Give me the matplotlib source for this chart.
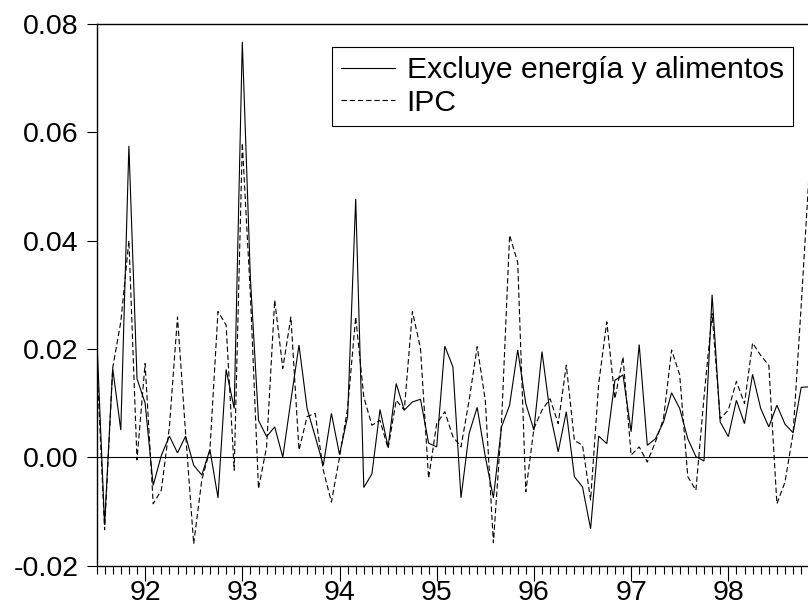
import numpy as np
import matplotlib
matplotlib.use("Agg")
import matplotlib.pyplot as plt
from matplotlib.ticker import FixedLocator, FixedFormatter

plt.rcParams['font.family'] = ['Liberation Sans', 'DejaVu Sans']
plt.rcParams['axes.unicode_minus'] = False

start_year = 1991.5  # July 1991, monthly data
core = [0.0235, -0.0125, 0.0164, 0.0050, 0.0575, 0.0145, 0.0100, -0.0052, 0.0003, 0.0039,
        0.0008, 0.0039, -0.0015, -0.0033, 0.0014, -0.0075, 0.0162, 0.0090, 0.0767, 0.0330,
        0.0068, 0.0038, 0.0056, 0.0000, 0.0105, 0.0207, 0.0090, 0.0038, -0.0015, 0.0081,
        0.0005, 0.0075, 0.0477, -0.0056, -0.0031, 0.0088, 0.0019, 0.0136, 0.0087, 0.0102,
        0.0107, 0.0026, 0.0019, 0.0205, 0.0167, -0.0075, 0.0044, 0.0092, 0.0001, -0.0075,
        0.0056, 0.0096, 0.0198, 0.0099, 0.0050, 0.0195, 0.0081, 0.0010, 0.0084, -0.0036,
        -0.0055, -0.0132, 0.0039, 0.0025, 0.0142, 0.0152, 0.0047, 0.0208, 0.0022, 0.0034,
        0.0065, 0.0119, 0.0090, 0.0034, 0.0001, -0.0007, 0.0300, 0.0065, 0.0038, 0.0105,
        0.0062, 0.0153, 0.0090, 0.0056, 0.0096, 0.0061, 0.0045, 0.0129, 0.0130]
ipc = [0.0190, -0.0134, 0.0165, 0.0250, 0.0400, -0.0005, 0.0173, -0.0086, -0.0061, 0.0056,
       0.0259, 0.0044, -0.0160, -0.0042, 0.0013, 0.0269, 0.0244, -0.0024, 0.0580, 0.0300,
       -0.0058, 0.0019, 0.0290, 0.0164, 0.0259, 0.0013, 0.0075, 0.0081, -0.0024, -0.0083,
       0.0000, 0.0090, 0.0259, 0.0111, 0.0059, 0.0068, 0.0016, 0.0105, 0.0087, 0.0269,
       0.0201, -0.0039, 0.0062, 0.0084, 0.0038, 0.0019, 0.0105, 0.0204, 0.0105, -0.0158,
       0.0062, 0.0410, 0.0360, -0.0064, 0.0053, 0.0087, 0.0108, 0.0062, 0.0170, 0.0031,
       0.0022, -0.0079, 0.0136, 0.0250, 0.0108, 0.0185, 0.0004, 0.0019, -0.0009, 0.0028,
       0.0071, 0.0198, 0.0152, -0.0036, -0.0061, 0.0111, 0.0265, 0.0071, 0.0087, 0.0140,
       0.0099, 0.0211, 0.0188, 0.0170, -0.0086, -0.0046, 0.0044, 0.0280, 0.0530]
year_ticks = [1992, 1993, 1994, 1995, 1996, 1997, 1998]
year_labels = ["92", "93", "94", "95", "96", "97", "98"]
y_ticks = [-0.02, 0.00, 0.02, 0.04, 0.06, 0.08]
y_labels = ["-0.02", "0.00", "0.02", "0.04", "0.06", "0.08"]
legend_labels = ["Excluye energía y alimentos", "IPC"]

t = start_year + np.arange(len(core)) / 12.0

W, H = 808, 609
fig = plt.figure(figsize=(W / 100, H / 100), dpi=100)
left_px, right_px, top_px, bottom_px = 96.5, 812.0, 24.0, 565.5
ax = fig.add_axes([left_px / W, 1 - bottom_px / H,
                   (right_px - left_px) / W, (bottom_px - top_px) / H])

l1, = ax.plot(t, core, color='black', lw=0.8, solid_joinstyle='miter')
l2, = ax.plot(t, ipc, color='black', lw=0.8, linestyle=(0, (4.8, 2.6)))
ax.axhline(0, color='black', lw=0.8)

ax.set_xlim(start_year, start_year + (right_px - left_px) / 97.2)
ax.set_ylim(-0.02, 0.08)

ax.xaxis.set_major_locator(FixedLocator(year_ticks))
ax.xaxis.set_major_formatter(FixedFormatter(year_labels))
ax.xaxis.set_minor_locator(FixedLocator(start_year + np.arange(0, 100) / 12.0))
ax.yaxis.set_major_locator(FixedLocator(y_ticks))
ax.yaxis.set_major_formatter(FixedFormatter(y_labels))

ax.tick_params(axis='x', which='major', direction='out', length=10.5, width=0.8,
               labelsize=20.5, pad=0)
ax.tick_params(axis='x', which='minor', direction='out', length=6, width=0.8)
ax.tick_params(axis='y', which='major', direction='out', length=7, width=0.8,
               labelsize=20.5, pad=6)
for s in ['left', 'top', 'bottom']:
    ax.spines[s].set_linewidth(1.0)
ax.spines['right'].set_visible(False)

leg = ax.legend([l1, l2], legend_labels, loc='upper left',
                bbox_to_anchor=(331.7 / W, 1 - 47.3 / H), bbox_transform=fig.transFigure,
                fontsize=21.7, frameon=True, fancybox=False, framealpha=1,
                edgecolor='black', borderpad=0.3, labelspacing=0.14,
                handlelength=1.8, handletextpad=0.39, borderaxespad=0)
leg.get_frame().set_linewidth(0.8)

fig.savefig("out.png", dpi=100)
